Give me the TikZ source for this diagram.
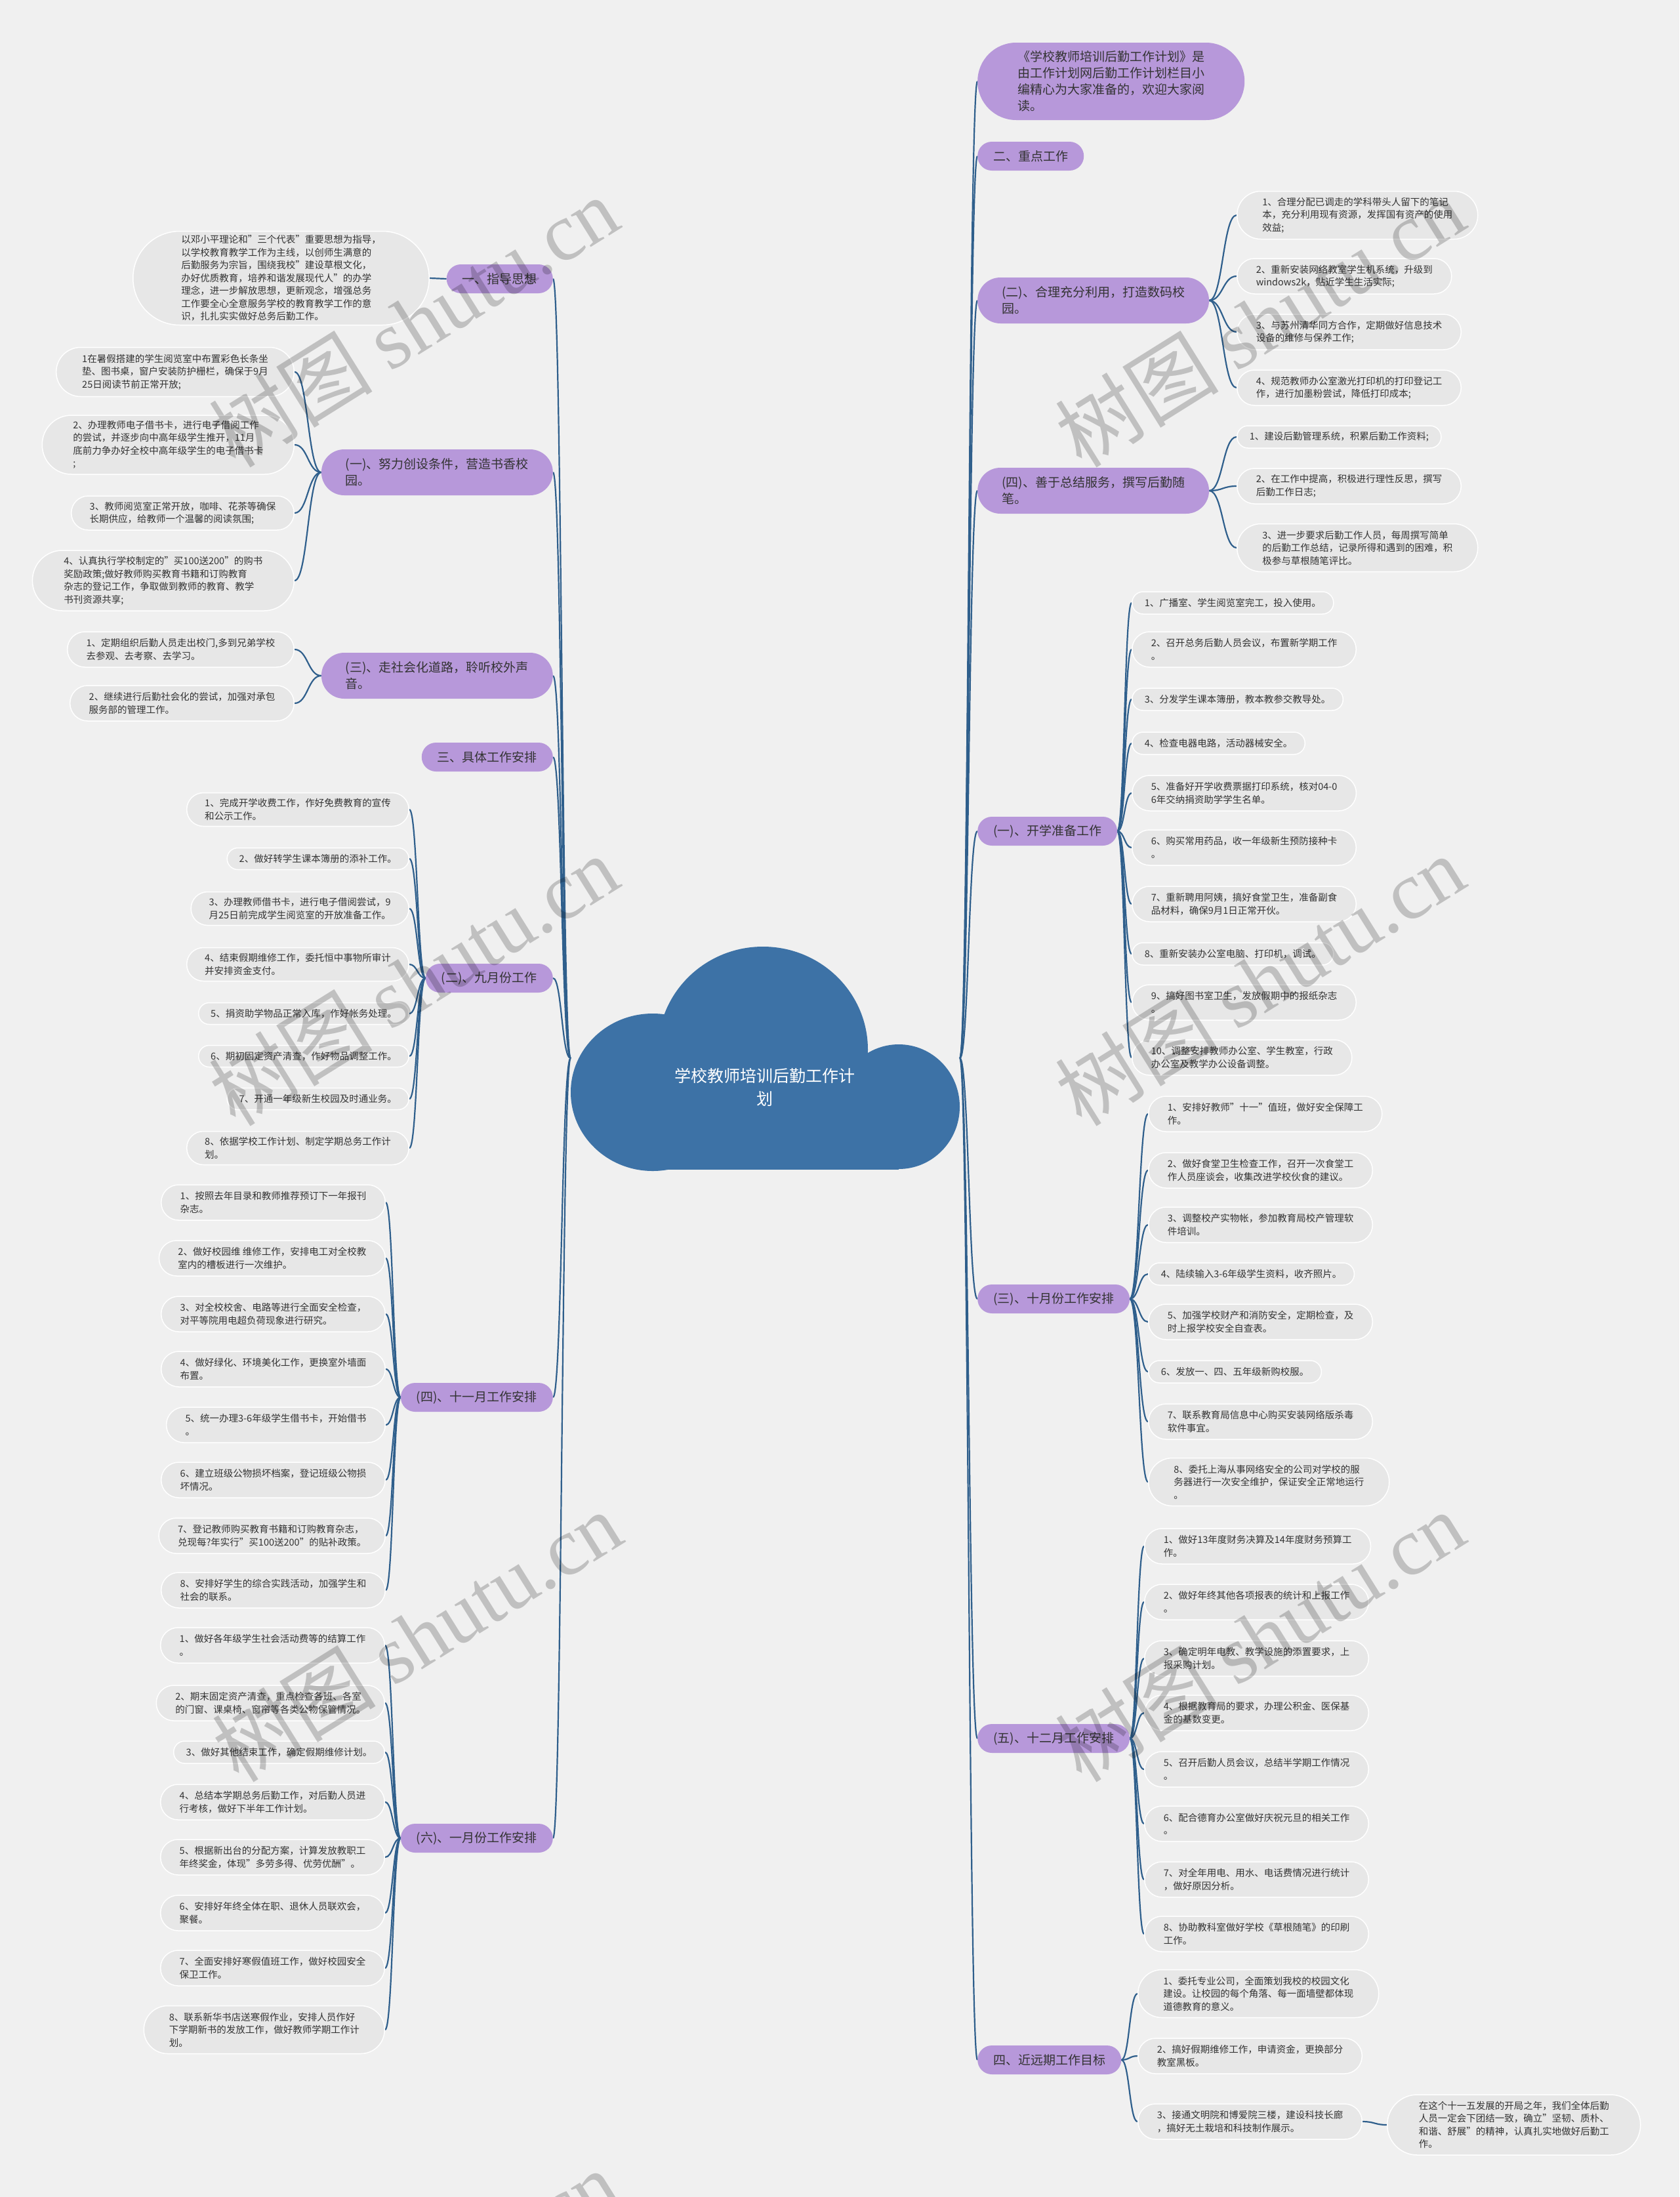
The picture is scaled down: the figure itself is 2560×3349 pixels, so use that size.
\documentclass[tikz,border=0pt]{standalone}
\usepackage{fontspec}
\setmainfont{Noto Sans CJK SC}
\newfontfamily\wmlatin{Liberation Serif}
\usepackage{tikz}
\usetikzlibrary{calc,backgrounds}
\definecolor{paper}{HTML}{F0F0F0}
\definecolor{cloud}{HTML}{3D72A6}
\definecolor{lilac}{HTML}{B798DA}
\definecolor{pebble}{HTML}{E7E7E7}
\definecolor{ink}{HTML}{333333}
\definecolor{wire}{HTML}{2F5F8C}
\tikzset{
  branch/.style={rectangle,fill=lilac,text=ink,align=left,minimum height=#1,inner xsep=#1/2+2pt,inner ysep=2pt,rounded corners=#1/2-0.2pt,font=\fontsize{19}{25}\selectfont},
  branch/.default=44pt,
  rbranch/.style={branch=#1,anchor=west},
  rbranch/.default=44pt,
  lbranch/.style={branch=#1,anchor=east},
  lbranch/.default=44pt,
  leaf/.style={rectangle,fill=pebble,draw=white,line width=1.5pt,text=ink,align=left,minimum height=#1,inner xsep=#1/2+2pt,inner ysep=2pt,rounded corners=#1/2-0.2pt,font=\fontsize{14.5}{19.5}\selectfont},
  leaf/.default=54pt,
  rleaf/.style={leaf=#1,anchor=west},
  rleaf/.default=54pt,
  lleaf/.style={leaf=#1,anchor=east},
  lleaf/.default=54pt,
  link/.style={draw=wire,line width=2.2pt},
  sweep/.style={to path={.. controls ($(\tikztostart)!0.5!(\tikztotarget |- \tikztostart)$) and ($(\tikztotarget)!0.5!(\tikztostart |- \tikztotarget)$) .. (\tikztotarget)}},
  stamp/.style={text=black,opacity=0.2,rotate=32,font=\fontsize{125}{125}\selectfont},
}
\begin{document}
\begin{tikzpicture}[x=1pt,y=-1pt]
\useasboundingbox (0,0) rectangle (2560,3349);
\fill[cloud] (995,1665) ellipse [x radius=125pt,y radius=120pt];
\fill[cloud] (1163,1600) ellipse [x radius=160pt,y radius=157pt];
\fill[cloud] (1370,1687) ellipse [x radius=93pt,y radius=95pt];
\fill[cloud] (995,1640) rectangle (1370,1783);
\node[minimum width=593pt,minimum height=340pt,inner sep=0pt] (root) at (1166.5,1613) {};
\node[text=white,align=center,font=\fontsize{25}{35}\selectfont] (title) at (1166,1657) {学校教师培训后勤工作计\\划};
\node[rbranch=118pt] (r1) at (1490,124) {《学校教师培训后勤工作计划》是\\由工作计划网后勤工作计划栏目小\\编精心为大家准备的，欢迎大家阅\\读。};
\node[rbranch] (r2) at (1490,238) {二、重点工作};
\node[rbranch=70pt] (r3) at (1490,458) {(二)、合理充分利用，打造数码校\\园。};
\node[rbranch=70pt] (r4) at (1490,748) {(四)、善于总结服务，撰写后勤随\\笔。};
\node[rbranch] (r5) at (1490,1267) {(一)、开学准备工作};
\node[rbranch] (r6) at (1490,1980) {(三)、十月份工作安排};
\node[rbranch] (r7) at (1490,2650) {(五)、十二月工作安排};
\node[rbranch] (r8) at (1490,3140) {四、近远期工作目标};
\node[rleaf=73pt] (r3-1) at (1885,328) {1、合理分配已调走的学科带头人留下的笔记\\本，充分利用现有资源，发挥国有资产的使用\\效益;};
\node[rleaf] (r3-2) at (1885,421) {2、重新安装网络教室学生机系统，升级到\\windows2k，贴近学生生活实际;};
\node[rleaf] (r3-3) at (1885,506) {3、与苏州清华同方合作，定期做好信息技术\\设备的维修与保养工作;};
\node[rleaf] (r3-4) at (1885,591) {4、规范教师办公室激光打印机的打印登记工\\作，进行加墨粉尝试，降低打印成本;};
\node[rleaf=34pt] (r4-1) at (1885,666) {1、建设后勤管理系统，积累后勤工作资料;};
\node[rleaf] (r4-2) at (1885,741) {2、在工作中提高，积极进行理性反思，撰写\\后勤工作日志;};
\node[rleaf=73pt] (r4-3) at (1885,835) {3、进一步要求后勤工作人员，每周撰写简单\\的后勤工作总结，记录所得和遇到的困难，积\\极参与草根随笔评比。};
\node[rleaf=34pt] (r5-1) at (1725,919) {1、广播室、学生阅览室完工，投入使用。};
\node[rleaf] (r5-2) at (1725,990) {2、召开总务后勤人员会议，布置新学期工作\\。};
\node[rleaf=34pt] (r5-3) at (1725,1066) {3、分发学生课本簿册，教本教参交教导处。};
\node[rleaf=34pt] (r5-4) at (1725,1133) {4、检查电器电路，活动器械安全。};
\node[rleaf] (r5-5) at (1725,1209) {5、准备好开学收费票据打印系统，核对04-0\\6年交纳捐资助学学生名单。};
\node[rleaf] (r5-6) at (1725,1292) {6、购买常用药品，收一年级新生预防接种卡\\。};
\node[rleaf] (r5-7) at (1725,1378) {7、重新聘用阿姨，搞好食堂卫生，准备副食\\品材料，确保9月1日正常开伙。};
\node[rleaf=34pt] (r5-8) at (1725,1454) {8、重新安装办公室电脑、打印机，调试。};
\node[rleaf] (r5-9) at (1725,1528) {9、搞好图书室卫生，发放假期中的报纸杂志\\。};
\node[rleaf] (r5-10) at (1725,1612) {10、调整安排教师办公室、学生教室，行政\\办公室及教学办公设备调整。};
\node[rleaf] (r6-1) at (1750,1698) {1、安排好教师"十一"值班，做好安全保障工\\作。};
\node[rleaf] (r6-2) at (1750,1784) {2、做好食堂卫生检查工作，召开一次食堂工\\作人员座谈会，收集改进学校伙食的建议。};
\node[rleaf] (r6-3) at (1750,1867) {3、调整校产实物帐，参加教育局校产管理软\\件培训。};
\node[rleaf=34pt] (r6-4) at (1750,1942) {4、陆续输入3-6年级学生资料，收齐照片。};
\node[rleaf] (r6-5) at (1750,2015) {5、加强学校财产和消防安全，定期检查，及\\时上报学校安全自查表。};
\node[rleaf=34pt] (r6-6) at (1750,2091) {6、发放一、四、五年级新购校服。};
\node[rleaf] (r6-7) at (1750,2167) {7、联系教育局信息中心购买安装网络版杀毒\\软件事宜。};
\node[rleaf=73pt] (r6-8) at (1750,2259) {8、委托上海从事网络安全的公司对学校的服\\务器进行一次安全维护，保证安全正常地运行\\。};
\node[rleaf] (r7-1) at (1744,2357) {1、做好13年度财务决算及14年度财务预算工\\作。};
\node[rleaf] (r7-2) at (1744,2442) {2、做好年终其他各项报表的统计和上报工作\\。};
\node[rleaf] (r7-3) at (1744,2528) {3、确定明年电教、教学设施的添置要求，上\\报采购计划。};
\node[rleaf] (r7-4) at (1744,2611) {4、根据教育局的要求，办理公积金、医保基\\金的基数变更。};
\node[rleaf] (r7-5) at (1744,2697) {5、召开后勤人员会议，总结半学期工作情况\\。};
\node[rleaf] (r7-6) at (1744,2780) {6、配合德育办公室做好庆祝元旦的相关工作\\。};
\node[rleaf] (r7-7) at (1744,2865) {7、对全年用电、用水、电话费情况进行统计\\，做好原因分析。};
\node[rleaf] (r7-8) at (1744,2948) {8、协助教科室做好学校《草根随笔》的印刷\\工作。};
\node[rleaf=73pt] (r8-1) at (1734,3039) {1、委托专业公司，全面策划我校的校园文化\\建设。让校园的每个角落、每一面墙壁都体现\\道德教育的意义。};
\node[rleaf] (r8-2) at (1734,3134) {2、搞好假期维修工作，申请资金，更换部分\\教室黑板。};
\node[rleaf] (r8-3) at (1734,3234) {3、接通文明院和博爱院三楼，建设科技长廊\\，搞好无土栽培和科技制作展示。};
\node[rleaf=92pt] (r8-3-1) at (2114,3239) {在这个十一五发展的开局之年，我们全体后勤\\人员一定会下团结一致，确立"坚韧、质朴、\\和谐、舒展"的精神，认真扎实地做好后勤工\\作。};
\node[lbranch] (l1) at (843,425) {一、指导思想};
\node[lbranch=70pt] (l2) at (843,720) {(一)、努力创设条件，营造书香校\\园。};
\node[lbranch=70pt] (l3) at (843,1030) {(三)、走社会化道路，聆听校外声\\音。};
\node[lbranch] (l4) at (843,1154) {三、具体工作安排};
\node[lbranch] (l5) at (843,1491) {(二)、九月份工作};
\node[lbranch] (l6) at (843,2130) {(四)、十一月工作安排};
\node[lbranch] (l7) at (843,2802) {(六)、一月份工作安排};
\node[lleaf=143pt] (l1-1) at (655,424) {以邓小平理论和"三个代表"重要思想为指导，\\以学校教育教学工作为主线，以创师生满意的\\后勤服务为宗旨，围绕我校"建设草根文化，\\办好优质教育，培养和谐发展现代人"的办学\\理念，进一步解放思想，更新观念，增强总务\\工作要全心全意服务学校的教育教学工作的意\\识，扎扎实实做好总务后勤工作。};
\node[lleaf=75pt] (l2-1) at (449,567) {1在暑假搭建的学生阅览室中布置彩色长条坐\\垫、图书桌，窗户安装防护栅栏，确保于9月\\25日阅读节前正常开放;};
\node[lleaf=90pt] (l2-2) at (449,678) {2、办理教师电子借书卡，进行电子借阅工作\\的尝试，并逐步向中高年级学生推开，11月\\底前力争办好全校中高年级学生的电子借书卡\\;};
\node[lleaf=52pt] (l2-3) at (449,782) {3、教师阅览室正常开放，咖啡、花茶等确保\\长期供应，给教师一个温馨的阅读氛围;};
\node[lleaf=92pt] (l2-4) at (449,885) {4、认真执行学校制定的"买100送200"的购书\\奖励政策;做好教师购买教育书籍和订购教育\\杂志的登记工作，争取做到教师的教育、教学\\书刊资源共享;};
\node[lleaf] (l3-1) at (449,990) {1、定期组织后勤人员走出校门,多到兄弟学校\\去参观、去考察、去学习。};
\node[lleaf] (l3-2) at (449,1072) {2、继续进行后勤社会化的尝试，加强对承包\\服务部的管理工作。};
\node[lleaf=51pt] (l5-1) at (624,1234) {1、完成开学收费工作，作好免费教育的宣传\\和公示工作。};
\node[lleaf=33pt] (l5-2) at (624,1309) {2、做好转学生课本簿册的添补工作。};
\node[lleaf=51pt] (l5-3) at (624,1385) {3、办理教师借书卡，进行电子借阅尝试，9\\月25日前完成学生阅览室的开放准备工作。};
\node[lleaf=51pt] (l5-4) at (624,1470) {4、结束假期维修工作，委托恒中事物所审计\\并安排资金支付。};
\node[lleaf=33pt] (l5-5) at (624,1545) {5、捐资助学物品正常入库，作好帐务处理。};
\node[lleaf=33pt] (l5-6) at (624,1610) {6、期初固定资产清查，作好物品调整工作。};
\node[lleaf=33pt] (l5-7) at (624,1675) {7、开通一年级新生校园及时通业务。};
\node[lleaf=51pt] (l5-8) at (624,1750) {8、依据学校工作计划、制定学期总务工作计\\划。};
\node[lleaf] (l6-1) at (588,1833) {1、按照去年目录和教师推荐预订下一年报刊\\杂志。};
\node[lleaf] (l6-2) at (588,1918) {2、做好校园维 维修工作，安排电工对全校教\\室内的槽板进行一次维护。};
\node[lleaf] (l6-3) at (588,2003) {3、对全校校舍、电路等进行全面安全检查，\\对平等院用电超负荷现象进行研究。};
\node[lleaf] (l6-4) at (588,2087) {4、做好绿化、环境美化工作，更换室外墙面\\布置。};
\node[lleaf] (l6-5) at (588,2172) {5、统一办理3-6年级学生借书卡，开始借书\\。};
\node[lleaf] (l6-6) at (588,2256) {6、建立班级公物损坏档案，登记班级公物损\\坏情况。};
\node[lleaf] (l6-7) at (588,2341) {7、登记教师购买教育书籍和订购教育杂志，\\兑现每?年实行"买100送200"的贴补政策。};
\node[lleaf] (l6-8) at (588,2424) {8、安排好学生的综合实践活动，加强学生和\\社会的联系。};
\node[lleaf] (l7-1) at (587,2508) {1、做好各年级学生社会活动费等的结算工作\\。};
\node[lleaf] (l7-2) at (587,2596) {2、期末固定资产清查，重点检查各班、各室\\的门窗、课桌椅、窗帘等各类公物保管情况。};
\node[lleaf=34pt] (l7-3) at (587,2671) {3、做好其他结束工作，确定假期维修计划。};
\node[lleaf] (l7-4) at (587,2747) {4、总结本学期总务后勤工作，对后勤人员进\\行考核，做好下半年工作计划。};
\node[lleaf] (l7-5) at (587,2831) {5、根据新出台的分配方案，计算发放教职工\\年终奖金，体现"多劳多得、优劳优酬"。};
\node[lleaf] (l7-6) at (587,2916) {6、安排好年终全体在职、退休人员联欢会，\\聚餐。};
\node[lleaf] (l7-7) at (587,3000) {7、全面安排好寒假值班工作，做好校园安全\\保卫工作。};
\node[lleaf=73pt] (l7-8) at (587,3094) {8、联系新华书店送寒假作业，安排人员作好\\下学期新书的发放工作，做好教师学期工作计\\划。};
\begin{scope}[on background layer]
\fill[paper] (0,0) rectangle (2560,3349);
\foreach \n in {r1,r2,r3,r4,r5,r6,r7,r8} \draw[link] (root.east) to[sweep] (\n.west);
\foreach \n in {l1,l2,l3,l4,l5,l6,l7} \draw[link] (root.west) to[sweep] (\n.east);
\foreach \i in {1,...,4} \draw[link] (r3.east) to[sweep] (r3-\i.west);
\foreach \i in {1,...,3} \draw[link] (r4.east) to[sweep] (r4-\i.west);
\foreach \i in {1,...,10} \draw[link] (r5.east) to[sweep] (r5-\i.west);
\foreach \i in {1,...,8} \draw[link] (r6.east) to[sweep] (r6-\i.west);
\foreach \i in {1,...,8} \draw[link] (r7.east) to[sweep] (r7-\i.west);
\foreach \i in {1,...,3} \draw[link] (r8.east) to[sweep] (r8-\i.west);
\draw[link] (r8-3.east) to[sweep] (r8-3-1.west);
\draw[link] (l1.west) to[sweep] (l1-1.east);
\foreach \i in {1,...,4} \draw[link] (l2.west) to[sweep] (l2-\i.east);
\foreach \i in {1,2} \draw[link] (l3.west) to[sweep] (l3-\i.east);
\foreach \i in {1,...,8} \draw[link] (l5.west) to[sweep] (l5-\i.east);
\foreach \i in {1,...,8} \draw[link] (l6.west) to[sweep] (l6-\i.east);
\foreach \i in {1,...,8} \draw[link] (l7.west) to[sweep] (l7-\i.east);
\end{scope}
\begin{scope}
\clip (0,0) rectangle (2560,3349);
\foreach \wx/\wy [count=\k] in {630/490,1920/490,630/1494,1920/1494,635/2494,1920/2494,630/3498}
  \node[stamp] (wm\k) at (\wx,\wy) {树图 {\wmlatin shutu.cn}};
\end{scope}
\end{tikzpicture}
\end{document}
